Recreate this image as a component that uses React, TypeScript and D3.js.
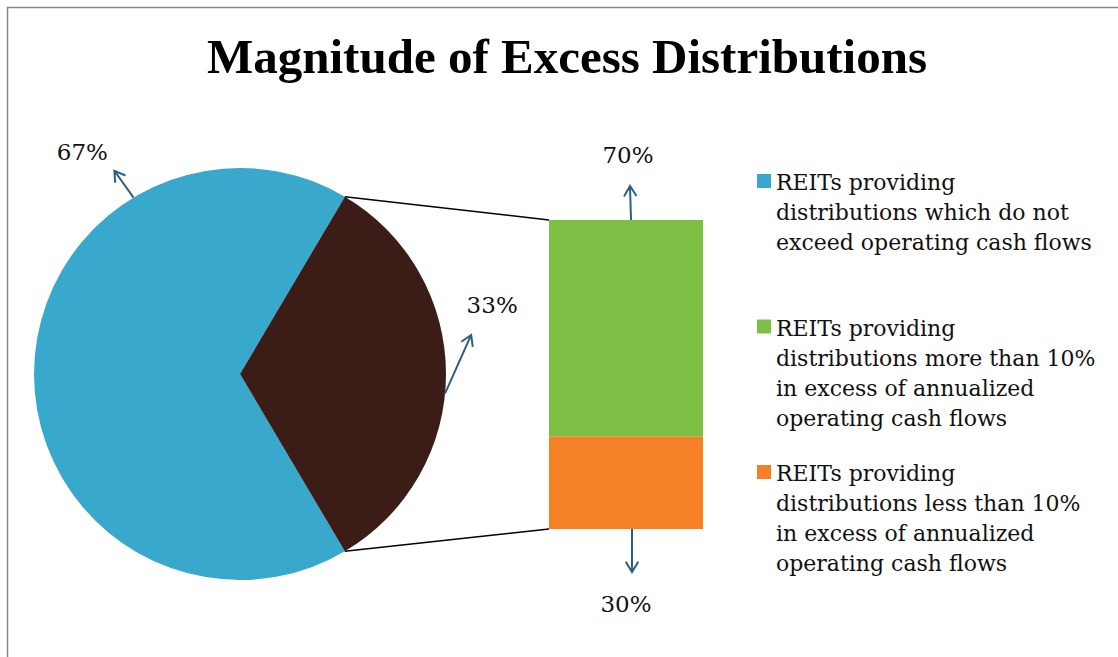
import { useEffect, useRef } from 'react';
import * as d3 from 'd3';

const TITLE = 'Magnitude of Excess Distributions';
const PIE_KEYS = ['doNotExceed', 'excess'];
const PIE_VALUES = [67, 33];
const PIE_LABELS = ['67%', '33%'];
const BAR_KEYS = ['lessThan10', 'moreThan10'];
const BAR_VALUES = [30, 70];
const BAR_LABELS = ['30%', '70%'];
const LEGEND_LINES = [
  ['REITs providing', 'distributions which do not', 'exceed operating cash flows'],
  ['REITs providing', 'distributions more than 10%', 'in excess of annualized', 'operating cash flows'],
  ['REITs providing', 'distributions less than 10%', 'in excess of annualized', 'operating cash flows'],
];

const COLORS: Record<string, string> = {
  doNotExceed: '#38a9cc',
  excess: '#3c1c17',
  moreThan10: '#7dbf44',
  lessThan10: '#f58025',
};
const LEGEND_KEYS = ['doNotExceed', 'moreThan10', 'lessThan10'];
const ARROW = '#2b5f86';
const TITLE_FONT = '"Liberation Serif", "Times New Roman", serif';
const FONT = '"DejaVu Serif", serif';

export default function App() {
  const svgRef = useRef<SVGSVGElement>(null);

  useEffect(() => {
    if (!svgRef.current) return;
    const W = 1118, H = 657;
    const svg = d3.select(svgRef.current).attr('width', W).attr('height', H);
    svg.selectAll('*').remove();

    // chart frame (runs off the right / bottom of the page)
    svg.append('rect')
      .attr('x', 7.5).attr('y', 7.5).attr('width', W + 20).attr('height', H + 20)
      .attr('fill', '#fff').attr('stroke', '#878787').attr('stroke-width', 1.5);

    svg.append('text')
      .attr('x', 567).attr('y', 73)
      .attr('text-anchor', 'middle')
      .attr('font-family', TITLE_FONT).attr('font-weight', 700).attr('font-size', 49)
      .attr('fill', '#000')
      .text(TITLE);

    // pie
    const cx = 240, cy = 374, r = 206;
    const otherShare = PIE_VALUES[1] / d3.sum(PIE_VALUES);
    const start = Math.PI / 2 + otherShare * Math.PI;
    const pie = d3.pie<number>().sort(null).startAngle(start).endAngle(start + 2 * Math.PI);
    const arcs = pie(PIE_VALUES);
    const arc = d3.arc<d3.PieArcDatum<number>>().innerRadius(0).outerRadius(r);

    const gp = svg.append('g').attr('transform', `translate(${cx},${cy})`);
    gp.selectAll('path').data(arcs).enter().append('path')
      .attr('d', arc)
      .attr('fill', (_, i) => COLORS[PIE_KEYS[i]]);

    // bar of the "excess" slice
    const barX = 549, barW = 154;
    const y = d3.scaleLinear().domain([0, d3.sum(BAR_VALUES)]).range([529, 220]);
    const stacked = d3.cumsum(BAR_VALUES);
    const gb = svg.append('g');
    BAR_VALUES.forEach((v, i) => {
      const top = stacked[i], bot = stacked[i] - v;
      gb.append('rect')
        .attr('x', barX).attr('y', y(top))
        .attr('width', barW).attr('height', y(bot) - y(top))
        .attr('fill', COLORS[BAR_KEYS[i]]);
    });

    // connector lines
    const ex = arcs[1];
    const pt = (a: number, rr: number) => [cx + rr * Math.sin(a), cy - rr * Math.cos(a)];
    const [ax1, ay1] = pt(ex.startAngle, r);
    const [ax2, ay2] = pt(ex.endAngle, r);
    svg.append('line').attr('x1', ax1).attr('y1', ay1).attr('x2', barX).attr('y2', y(d3.sum(BAR_VALUES)))
      .attr('stroke', '#000').attr('stroke-width', 1.5);
    svg.append('line').attr('x1', ax2).attr('y1', ay2).attr('x2', barX).attr('y2', y(0))
      .attr('stroke', '#000').attr('stroke-width', 1.5);

    // leader arrows + labels
    const arrow = (x1: number, y1: number, x2: number, y2: number) => {
      const ang = Math.atan2(y2 - y1, x2 - x1);
      const hl = 12, spread = 0.55;
      const p = d3.path();
      p.moveTo(x1, y1); p.lineTo(x2, y2);
      p.moveTo(x2 - hl * Math.cos(ang - spread), y2 - hl * Math.sin(ang - spread));
      p.lineTo(x2, y2);
      p.lineTo(x2 - hl * Math.cos(ang + spread), y2 - hl * Math.sin(ang + spread));
      svg.append('path').attr('d', p.toString()).attr('fill', 'none')
        .attr('stroke', ARROW).attr('stroke-width', 2);
    };
    const label = (x: number, yy: number, t: string) => {
      svg.append('text').attr('x', x).attr('y', yy)
        .attr('text-anchor', 'middle').attr('dominant-baseline', 'central')
        .attr('font-family', FONT).attr('font-size', 23).attr('fill', '#111')
        .text(t);
    };

    // pie labels: leaders leave the rim at a "best fit" angle
    const leaderAngles = [-0.543, 1.665];
    const leaderLen = [33, 64];
    const leaderTilt = [-0.62, 0.42];
    const labelOff = [[-32, -19], [21, -30]];
    PIE_VALUES.forEach((_, i) => {
      const [sx, sy] = pt(leaderAngles[i], r);
      const ex2 = sx + leaderLen[i] * Math.sin(leaderTilt[i]);
      const ey2 = sy - leaderLen[i] * Math.cos(leaderTilt[i]);
      arrow(sx, sy, ex2, ey2);
      label(ex2 + labelOff[i][0], ey2 + labelOff[i][1], PIE_LABELS[i]);
    });

    // bar labels
    const barMid = barX + barW / 2 + 6;
    arrow(barMid, y(0), barMid, y(0) + 43);
    label(barMid - 6, y(0) + 75, BAR_LABELS[0]);
    arrow(barMid - 1, y(d3.sum(BAR_VALUES)), barMid - 2, y(d3.sum(BAR_VALUES)) - 34);
    label(barMid - 4, y(d3.sum(BAR_VALUES)) - 65, BAR_LABELS[1]);

    // legend
    const lg = svg.append('g').attr('transform', 'translate(757,190)');
    LEGEND_KEYS.forEach((k, i) => {
      const g = lg.append('g').attr('transform', `translate(0,${i * 145.5})`);
      g.append('rect').attr('x', 0).attr('y', -16).attr('width', 14).attr('height', 14)
        .attr('fill', COLORS[k]);
      const t = g.append('text').attr('font-family', FONT).attr('font-size', 22).attr('fill', '#111');
      LEGEND_LINES[i].forEach((ln, j) => {
        t.append('tspan').attr('x', 19).attr('y', j * 30).text(ln);
      });
    });
  }, []);

  return (
    <svg ref={svgRef} style={{ position: 'fixed', left: 0, top: 0, display: 'block' }} />
  );
}
